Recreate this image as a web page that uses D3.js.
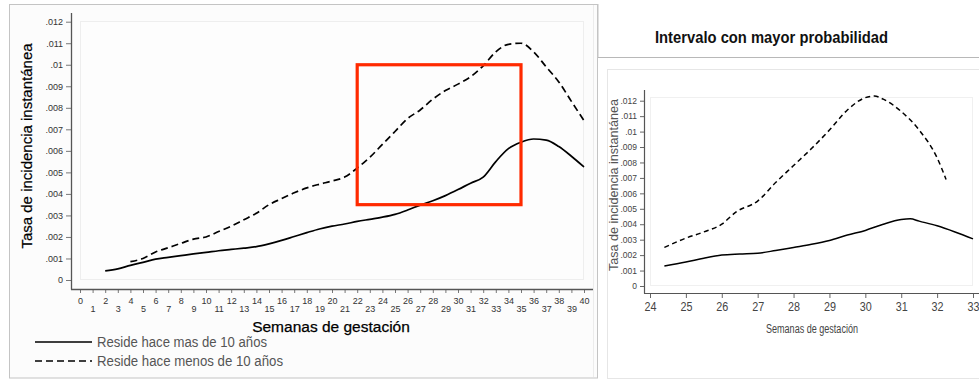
<!DOCTYPE html>
<html>
<head>
<meta charset="utf-8">
<script src="https://cdn.jsdelivr.net/npm/d3@7"></script>
<style>
  body { margin: 0; background: #fff; }
  svg { display: block; font-family: "Liberation Sans", Arial, sans-serif; }
</style>
</head>
<body>
<svg id="chart" width="979" height="389"></svg>
<script>
// left chart: weeks 0..40
var weeksMas = d3.range(2, 41);
var rateMas = [0.00042, 0.00052, 0.00068, 0.00082, 0.00097, 0.00105, 0.00113, 0.00121, 0.00128,
  0.00136, 0.00142, 0.00148, 0.00155, 0.00168, 0.00184, 0.00202, 0.0022, 0.00237, 0.0025,
  0.0026, 0.00272, 0.00282, 0.00292, 0.00305, 0.00325, 0.00348, 0.00368, 0.00392, 0.0042,
  0.0045, 0.00478, 0.0055, 0.0061, 0.0064, 0.00655, 0.0065, 0.0062, 0.00575, 0.00525];
var weeksMenos = d3.range(4, 41);
var rateMenos = [0.00085, 0.001, 0.0013, 0.0015, 0.0017, 0.0019, 0.002, 0.00225, 0.0025, 0.0028,
  0.0031, 0.0035, 0.00378, 0.00405, 0.00428, 0.00445, 0.0046, 0.00478, 0.0052, 0.0057, 0.0063,
  0.0069, 0.0075, 0.0079, 0.0084, 0.0088, 0.0091, 0.00944, 0.00995, 0.0106, 0.01095, 0.011,
  0.0106, 0.0099, 0.0092, 0.0083, 0.0074];
var leftTicksY = d3.range(0, 0.0121, 0.001);
var leftTicksX = d3.range(0, 41);
// red box: interval
var boxWeeks = [22, 35];
var boxRates = [0.0035, 0.01];

// right chart: zoom of interval
var zoomWeeksMas = [24.4, 25, 25.5, 26, 26.5, 27, 27.5, 28, 28.5, 29, 29.5, 30, 30.5, 31, 31.25, 31.5, 32, 32.5, 33];
var zoomRateMas = [0.0013, 0.00155, 0.0018, 0.002, 0.00207, 0.00212, 0.0023, 0.0025, 0.0027, 0.00295,
  0.0033, 0.0036, 0.004, 0.0043, 0.00435, 0.0042, 0.0039, 0.0035, 0.00305];
var zoomWeeksMenos = [24.4, 25, 25.5, 26, 26.4, 27, 27.5, 28, 28.5, 29, 29.5, 30, 30.25, 30.5, 31, 31.5, 32, 32.25];
var zoomRateMenos = [0.0025, 0.0031, 0.0035, 0.004, 0.0048, 0.0055, 0.0067, 0.0078, 0.0089, 0.0101,
  0.0114, 0.0122, 0.0123, 0.0121, 0.0113, 0.0101, 0.0083, 0.0069];
var rightTicksX = d3.range(24, 34);

var legendLabels = ["Reside hace mas de 10 años", "Reside hace menos de 10 años"];

var svg = d3.select("#chart");
var fmt = function(v) { return v === 0 ? "0" : d3.format(".3~f")(v).replace(/^0/, ""); };

// ---------- left panel ----------
svg.append("rect").attr("x", 9.5).attr("y", 4.5).attr("width", 588).attr("height", 373.5)
  .attr("fill", "#fcfcfc").attr("stroke", "#c4c4c4");
svg.append("line").attr("x1", 593.5).attr("x2", 593.5).attr("y1", 5).attr("y2", 377)
  .attr("stroke", "#ececec");

var x1 = d3.scaleLinear().domain([0, 40]).range([80, 584]);
var y1 = d3.scaleLinear().domain([0, 0.012]).range([280, 21.7]);

svg.append("rect").attr("x", 80.5).attr("y", 21.5).attr("width", 503).attr("height", 258)
  .attr("fill", "#fdfdfd").attr("stroke", "#eeeeee");

var gy1 = svg.append("g").attr("transform", "translate(71,0)")
  .call(d3.axisLeft(y1).tickValues(leftTicksY).tickFormat(fmt).tickSize(5).tickPadding(3));
gy1.select(".domain").remove();
gy1.append("line").attr("x1", 0.5).attr("x2", 0.5).attr("y1", 13).attr("y2", 289.5)
  .attr("stroke", "#555").attr("stroke-width", 1.3);
gy1.selectAll(".tick line").attr("stroke", "#777");
gy1.selectAll(".tick text").attr("fill", "#333").style("font-size", "9px");

var gx1 = svg.append("g").attr("transform", "translate(0,289)")
  .call(d3.axisBottom(x1).tickValues(leftTicksX).tickFormat(d3.format("d")).tickSize(4).tickPadding(3));
gx1.select(".domain").remove();
gx1.append("line").attr("x1", 71).attr("x2", 593).attr("y1", 0.5).attr("y2", 0.5)
  .attr("stroke", "#555").attr("stroke-width", 1.3);
gx1.selectAll(".tick line").attr("stroke", "#777");
gx1.selectAll(".tick text").attr("fill", "#333").style("font-size", "9px")
  .attr("y", function(d) { return d % 2 === 0 ? 9 : 17; });

svg.append("text").attr("x", 331).attr("y", 332).attr("text-anchor", "middle")
  .style("font-size", "15.5px").attr("fill", "#000").attr("stroke", "#000").attr("stroke-width", 0.25)
  .text("Semanas de gestación");
svg.append("text").attr("transform", "translate(32,146) rotate(-90)").attr("text-anchor", "middle")
  .style("font-size", "15px").attr("fill", "#000").attr("stroke", "#000").attr("stroke-width", 0.2)
  .text("Tasa de incidencia instantánea");

var line1 = d3.line().x(function(d) { return x1(d[0]); }).y(function(d) { return y1(d[1]); })
  .curve(d3.curveMonotoneX);
svg.append("path").datum(d3.zip(weeksMas, rateMas)).attr("d", line1)
  .attr("fill", "none").attr("stroke", "#000").attr("stroke-width", 1.7);
svg.append("path").datum(d3.zip(weeksMenos, rateMenos)).attr("d", line1)
  .attr("fill", "none").attr("stroke", "#000").attr("stroke-width", 1.7).attr("stroke-dasharray", "7,4");

svg.append("rect").attr("x", x1(boxWeeks[0])).attr("y", y1(boxRates[1]))
  .attr("width", x1(boxWeeks[1]) - x1(boxWeeks[0])).attr("height", y1(boxRates[0]) - y1(boxRates[1]))
  .attr("fill", "none").attr("stroke", "#ff2a00").attr("stroke-width", 3.2);

// legend
var lg = svg.append("g").selectAll("g").data(legendLabels).enter().append("g")
  .attr("transform", function(d, i) { return "translate(0," + (342 + i * 19) + ")"; });
lg.append("line").attr("x1", 35).attr("x2", 92).attr("y1", 0).attr("y2", 0)
  .attr("stroke", "#000").attr("stroke-width", 1.7)
  .attr("stroke-dasharray", function(d, i) { return i ? "7,4" : null; });
lg.append("text").attr("x", 97).attr("y", 5).style("font-size", "14px").attr("fill", "#555")
  .attr("textLength", function(d, i) { return i ? 186 : 170; }).attr("lengthAdjust", "spacingAndGlyphs")
  .text(function(d) { return d; });

// ---------- right panel ----------
svg.append("line").attr("x1", 598).attr("x2", 598).attr("y1", 4).attr("y2", 57).attr("stroke", "#c4c4c4");
svg.append("line").attr("x1", 598).attr("x2", 979).attr("y1", 57.5).attr("y2", 57.5).attr("stroke", "#b8b8b8");
svg.append("text").attr("x", 655).attr("y", 43)
  .style("font-size", "17px").style("font-weight", "bold").attr("fill", "#111")
  .attr("textLength", 233).attr("lengthAdjust", "spacingAndGlyphs")
  .text("Intervalo con mayor probabilidad");

svg.append("rect").attr("x", 607.5).attr("y", 69.5).attr("width", 372).attr("height", 309)
  .attr("fill", "#fff").attr("stroke", "#e6e6e6");

var x2 = d3.scaleLinear().domain([24, 33]).range([650, 973]);
var y2 = d3.scaleLinear().domain([0, 0.012]).range([286, 100.7]);

svg.append("rect").attr("x", 650.5).attr("y", 97.5).attr("width", 322).attr("height", 188)
  .attr("fill", "#fff").attr("stroke", "#f0f0f0");

var gy2 = svg.append("g").attr("transform", "translate(644,0)")
  .call(d3.axisLeft(y2).tickValues(leftTicksY).tickFormat(fmt).tickSize(4).tickPadding(3));
gy2.select(".domain").remove();
gy2.append("line").attr("x1", 0.5).attr("x2", 0.5).attr("y1", 90).attr("y2", 293.5)
  .attr("stroke", "#555").attr("stroke-width", 1.2);
gy2.selectAll(".tick line").attr("stroke", "#666");
gy2.selectAll(".tick text").attr("fill", "#444").style("font-size", "8.5px");

var gx2 = svg.append("g").attr("transform", "translate(0,293)")
  .call(d3.axisBottom(x2).tickValues(rightTicksX).tickFormat(d3.format("d")).tickSize(5).tickPadding(4));
gx2.select(".domain").remove();
gx2.append("line").attr("x1", 644).attr("x2", 979).attr("y1", 0.5).attr("y2", 0.5)
  .attr("stroke", "#555").attr("stroke-width", 1.2);
gx2.selectAll(".tick line").attr("stroke", "#666");
gx2.selectAll(".tick text").attr("fill", "#444").style("font-size", "12px")
  .attr("textLength", 12).attr("lengthAdjust", "spacingAndGlyphs");

svg.append("text").attr("x", 812).attr("y", 333).attr("text-anchor", "middle")
  .style("font-size", "12px").attr("fill", "#444")
  .attr("textLength", 92).attr("lengthAdjust", "spacingAndGlyphs").text("Semanas de gestación");
svg.append("text").attr("transform", "translate(618,185) rotate(-90)")
  .attr("text-anchor", "middle").style("font-size", "12px").attr("fill", "#555")
  .attr("textLength", 172).attr("lengthAdjust", "spacingAndGlyphs")
  .text("Tasa de incidencia instantánea");

var line2 = d3.line().x(function(d) { return x2(d[0]); }).y(function(d) { return y2(d[1]); })
  .curve(d3.curveMonotoneX);
svg.append("path").datum(d3.zip(zoomWeeksMas, zoomRateMas)).attr("d", line2)
  .attr("fill", "none").attr("stroke", "#000").attr("stroke-width", 1.5);
svg.append("path").datum(d3.zip(zoomWeeksMenos, zoomRateMenos)).attr("d", line2)
  .attr("fill", "none").attr("stroke", "#000").attr("stroke-width", 1.5).attr("stroke-dasharray", "5,3.5");
</script>
</body>
</html>
